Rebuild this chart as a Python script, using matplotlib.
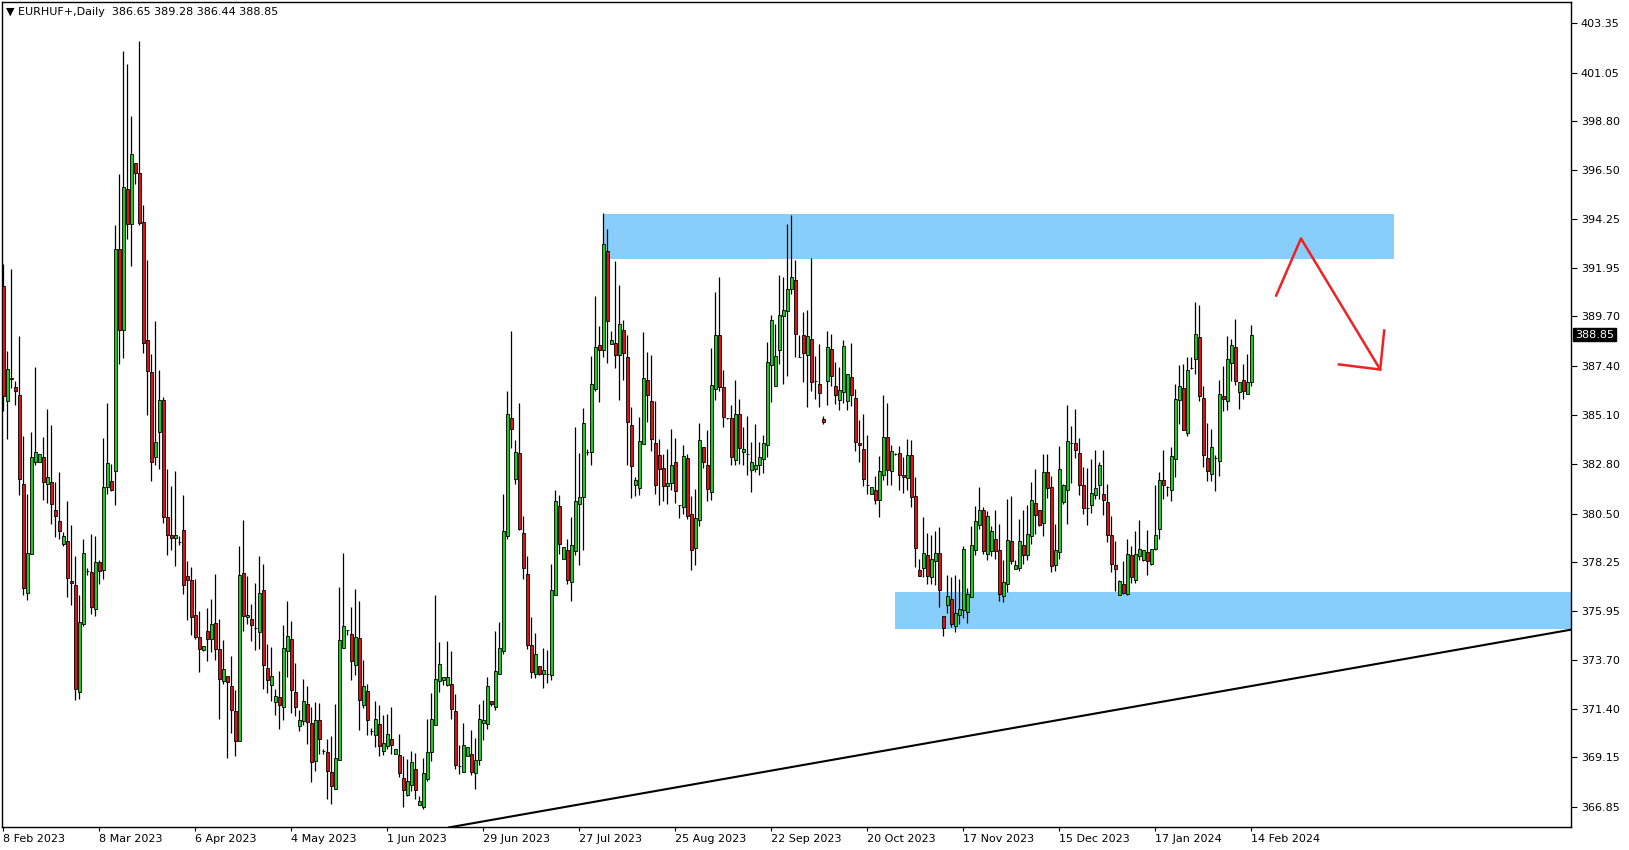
import numpy as np
import matplotlib
matplotlib.use("Agg")
import matplotlib.pyplot as plt
import matplotlib.transforms as mtransforms
from matplotlib.patches import Rectangle

# EURHUF+ daily candles (one value per bar)
opens = [
    391.10, 385.74, 386.84, 386.42, 386.02, 381.90, 376.82, 378.63, 382.90, 382.90,
    383.13, 381.90, 381.97, 380.69, 380.17, 379.10, 379.22, 377.35, 377.19, 372.18,
    375.37, 377.82, 377.77, 376.07, 378.26, 377.87, 381.73, 382.04, 382.50, 392.85,
    389.07, 395.64, 394.01, 396.86, 396.39, 394.08, 388.58, 387.12, 383.13, 384.30,
    385.81, 380.34, 379.52, 379.38, 379.17, 379.73, 377.59, 377.40, 375.79, 374.74,
    374.16, 375.02, 374.67, 375.42, 374.21, 372.69, 372.93, 372.46, 371.30, 369.90,
    377.75, 375.68, 375.61, 375.19, 374.98, 376.93, 373.32, 372.51, 371.71, 371.95,
    371.48, 374.09, 374.67, 372.18, 370.60, 370.83, 371.64, 370.76, 368.97, 370.88,
    369.43, 369.38, 368.45, 367.68, 369.04, 374.25, 375.07, 374.91, 373.44, 374.72,
    371.58, 372.23, 370.36, 370.18, 370.71, 369.43, 369.66, 370.01, 369.31, 369.25,
    368.20, 367.40, 367.87, 368.62, 366.94, 366.82, 368.15, 369.38, 370.67, 372.69,
    372.76, 372.53, 372.58, 371.30, 368.73, 368.45, 369.20, 369.31, 368.43, 369.04,
    370.76, 370.71, 371.76, 371.48, 373.04, 374.09, 379.45, 384.97, 382.13, 383.34,
    379.61, 377.70, 374.37, 373.04, 373.39, 373.04, 373.04, 372.97, 376.70, 380.85,
    378.40, 378.82, 377.31, 378.75, 380.96, 381.27, 383.36, 383.36, 386.32, 388.35,
    388.12, 392.73, 388.42, 388.47, 387.89, 389.05, 387.79, 384.65, 381.83, 381.71,
    383.76, 386.74, 385.74, 383.81, 383.23, 382.64, 381.78, 381.94, 382.90, 380.90,
    380.80, 383.11, 380.50, 378.91, 380.22, 383.60, 382.76, 381.50, 386.32, 388.82,
    386.39, 384.97, 384.97, 382.99, 385.16, 383.36, 383.29, 382.53, 382.60, 382.78,
    383.06, 383.69, 387.42, 386.44, 388.12, 389.70, 389.94, 390.98, 391.38, 387.79,
    388.82, 387.89, 388.65, 386.67, 386.56, 384.93, 386.67, 388.19, 386.44, 385.79,
    386.16, 385.74, 386.86, 385.90, 383.81, 383.53, 381.83, 381.43, 381.62, 381.13,
    382.29, 384.06, 382.48, 383.29, 383.34, 382.32, 382.18, 383.23, 381.31, 377.87,
    377.98, 378.57, 377.54, 378.29, 378.68, 375.72, 376.24, 376.54, 375.26, 375.77,
    376.00, 375.91, 376.61, 378.82, 379.96, 380.66, 378.63, 378.75, 379.33, 378.80,
    376.65, 377.24, 379.22, 377.94, 377.98, 379.03, 378.57, 379.45, 381.01, 380.66,
    380.08, 382.43, 381.73, 378.12, 378.70, 381.03, 381.62, 383.81, 383.81, 383.34,
    381.83, 380.78, 380.92, 381.36, 381.83, 381.43, 381.03, 379.50, 378.10, 376.72,
    377.24, 376.77, 378.57, 377.42, 378.52, 378.36, 378.70, 378.17, 378.87, 379.80,
    382.06, 381.73, 381.62, 383.06, 385.79, 386.37, 384.27, 387.30, 387.72, 388.72,
    385.90, 383.11, 382.36, 383.11, 382.95, 385.97, 385.74, 387.54, 388.26, 386.16,
    386.72, 386.09, 386.65,
]
highs = [
    392.15, 388.07, 391.92, 386.67, 388.77, 384.11, 381.43, 384.32, 387.33, 383.29,
    384.06, 385.39, 384.65, 381.97, 382.43, 379.64, 381.08, 379.96, 378.52, 376.70,
    379.33, 377.98, 379.57, 379.45, 378.33, 384.04, 385.67, 382.83, 393.94, 396.34,
    402.05, 401.47, 399.02, 396.86, 402.52, 394.90, 392.34, 387.95, 389.47, 387.21,
    385.93, 382.60, 381.78, 382.48, 379.45, 381.38, 378.29, 378.01, 377.47, 375.96,
    374.32, 376.12, 376.54, 377.70, 375.61, 374.63, 372.93, 373.86, 372.30, 378.98,
    380.20, 377.59, 376.30, 377.28, 378.52, 378.17, 374.44, 374.28, 372.34, 373.16,
    375.30, 376.42, 375.49, 373.56, 371.37, 372.81, 372.46, 371.48, 371.71, 371.69,
    369.55, 370.01, 370.13, 371.64, 377.07, 378.68, 375.07, 376.14, 377.00, 376.42,
    373.67, 372.58, 370.53, 371.76, 371.58, 371.13, 371.18, 371.48, 369.55, 370.25,
    369.20, 369.08, 369.43, 369.36, 367.33, 369.13, 370.95, 372.16, 376.72, 374.51,
    372.88, 374.56, 374.09, 372.11, 369.73, 370.76, 369.62, 370.41, 370.06, 371.64,
    371.83, 372.88, 371.76, 375.02, 375.44, 381.43, 386.21, 389.00, 383.95, 385.67,
    380.38, 378.52, 375.68, 374.95, 373.39, 374.25, 374.14, 378.17, 381.62, 381.36,
    378.94, 379.33, 380.34, 384.53, 383.34, 385.44, 383.53, 387.84, 390.63, 389.24,
    394.53, 393.78, 389.00, 392.27, 391.15, 389.52, 388.82, 385.46, 382.20, 385.00,
    388.96, 388.02, 387.89, 385.74, 383.99, 383.29, 383.53, 384.46, 384.04, 380.90,
    383.71, 383.29, 381.31, 381.66, 384.74, 383.60, 384.39, 388.23, 390.82, 391.52,
    387.19, 384.97, 385.56, 386.74, 385.86, 384.53, 385.04, 383.83, 384.69, 383.83,
    384.16, 388.49, 389.75, 389.35, 391.61, 391.52, 394.01, 394.43, 392.34, 388.84,
    389.89, 390.01, 392.43, 387.84, 388.42, 385.04, 389.00, 388.89, 387.56, 387.33,
    388.58, 387.02, 388.47, 386.32, 384.86, 385.16, 384.18, 381.73, 382.25, 383.18,
    386.04, 385.67, 383.71, 383.34, 383.64, 383.13, 383.99, 383.92, 382.20, 378.40,
    380.34, 379.61, 379.52, 379.68, 379.87, 375.72, 377.66, 377.54, 377.63, 377.47,
    378.98, 377.05, 379.92, 380.85, 381.73, 380.80, 380.62, 379.92, 380.66, 380.03,
    378.36, 381.20, 381.31, 378.36, 380.27, 380.69, 380.91, 381.97, 382.60, 380.66,
    383.29, 383.29, 382.25, 380.03, 383.64, 381.90, 385.56, 384.58, 385.39, 384.04,
    382.67, 382.64, 383.06, 383.46, 382.90, 383.48, 381.90, 380.38, 379.22, 377.42,
    378.29, 379.33, 378.98, 379.68, 380.22, 378.82, 379.73, 378.87, 381.85, 382.43,
    383.46, 381.78, 383.60, 386.56, 387.42, 387.49, 387.79, 387.79, 390.35, 390.24,
    386.44, 384.74, 384.46, 383.25, 386.72, 387.37, 388.77, 388.65, 389.59, 386.63,
    387.49, 387.95, 389.28,
]
lows = [
    385.28, 383.99, 386.37, 385.58, 381.38, 376.70, 376.47, 378.63, 382.78, 382.90,
    381.15, 381.01, 380.03, 379.40, 379.33, 378.98, 376.61, 376.26, 371.81, 371.88,
    375.26, 377.66, 375.84, 375.72, 377.24, 377.47, 381.43, 381.55, 380.90, 387.49,
    387.77, 393.31, 392.03, 395.88, 393.97, 388.00, 385.09, 382.01, 382.76, 382.60,
    380.08, 378.59, 378.82, 378.05, 379.05, 376.77, 375.56, 374.86, 374.67, 373.11,
    374.09, 373.63, 374.04, 373.67, 370.95, 372.58, 369.13, 370.29, 369.20, 369.90,
    375.02, 375.37, 374.56, 374.14, 374.21, 372.34, 372.16, 371.76, 371.13, 370.48,
    370.90, 372.88, 371.23, 371.06, 370.36, 370.64, 369.78, 367.99, 368.50, 369.31,
    369.31, 367.22, 366.98, 367.68, 369.04, 374.25, 374.84, 372.76, 372.97, 370.41,
    371.46, 370.18, 370.20, 369.62, 369.20, 369.27, 369.55, 369.31, 369.31, 368.22,
    366.82, 367.33, 367.57, 367.22, 366.92, 366.75, 368.03, 368.97, 370.67, 372.18,
    372.53, 372.46, 370.95, 368.62, 368.38, 368.45, 369.20, 368.34, 367.68, 368.80,
    369.97, 370.48, 371.53, 371.37, 373.04, 373.97, 379.33, 383.57, 381.90, 379.75,
    377.47, 374.21, 372.86, 372.86, 373.00, 372.39, 372.62, 372.74, 376.70, 378.63,
    378.40, 377.24, 376.42, 378.57, 378.10, 378.82, 383.25, 382.78, 386.21, 385.69,
    387.79, 387.54, 388.42, 387.30, 385.79, 386.72, 382.76, 381.24, 381.31, 381.38,
    383.76, 384.76, 383.41, 381.43, 380.92, 381.08, 380.96, 381.62, 381.01, 380.31,
    380.50, 380.27, 377.89, 378.12, 379.92, 382.64, 381.08, 381.13, 385.81, 386.21,
    384.53, 384.93, 382.76, 382.78, 382.83, 382.76, 382.29, 381.50, 382.43, 382.29,
    382.41, 383.13, 385.69, 386.44, 387.49, 386.56, 386.91, 390.75, 387.79, 387.79,
    386.63, 385.46, 386.21, 385.86, 385.46, 384.69, 385.58, 386.44, 385.62, 385.35,
    385.67, 385.35, 385.51, 383.41, 382.90, 381.78, 381.43, 381.43, 380.96, 380.34,
    382.06, 381.83, 381.85, 383.25, 381.62, 381.48, 381.59, 380.80, 378.01, 377.59,
    377.54, 377.24, 377.24, 377.19, 376.14, 374.79, 375.89, 375.21, 374.98, 375.37,
    375.65, 375.42, 376.61, 378.57, 379.80, 378.63, 378.33, 378.52, 378.40, 376.42,
    376.37, 376.84, 378.17, 377.94, 377.82, 378.17, 378.36, 379.10, 379.57, 379.92,
    379.45, 381.24, 377.77, 377.82, 378.40, 380.96, 380.03, 381.94, 383.11, 381.36,
    380.50, 379.96, 380.55, 381.20, 381.20, 380.45, 379.17, 377.77, 376.89, 376.72,
    376.77, 376.72, 377.28, 377.28, 378.33, 378.29, 377.63, 378.10, 378.82, 379.33,
    381.20, 381.31, 381.08, 382.20, 384.69, 384.39, 384.11, 387.26, 387.02, 385.74,
    382.67, 382.01, 382.01, 381.55, 382.25, 385.28, 385.35, 386.67, 386.51, 385.39,
    385.86, 386.09, 386.44,
]
closes = [
    385.97, 387.26, 386.80, 386.23, 382.13, 377.05, 378.68, 383.13, 383.36, 383.29,
    381.97, 382.20, 380.96, 380.41, 379.68, 379.45, 377.52, 377.28, 372.34, 375.44,
    378.68, 377.82, 376.14, 378.26, 377.82, 381.76, 382.85, 381.62, 392.85, 389.07,
    395.71, 394.01, 397.27, 396.39, 394.06, 388.47, 387.14, 382.92, 383.83, 385.81,
    380.34, 379.52, 379.38, 379.52, 379.17, 377.17, 377.40, 375.68, 374.74, 374.21,
    374.32, 374.67, 375.37, 374.21, 372.81, 373.28, 372.65, 371.34, 369.90, 377.63,
    375.72, 375.79, 375.30, 375.19, 376.82, 373.44, 372.76, 372.93, 371.99, 371.60,
    374.25, 374.79, 372.30, 371.48, 370.90, 371.76, 370.78, 368.92, 370.90, 370.01,
    369.43, 368.50, 367.80, 369.13, 374.60, 375.26, 375.07, 373.63, 374.74, 371.81,
    372.46, 370.90, 370.36, 370.95, 369.66, 369.83, 370.25, 369.71, 369.55, 368.43,
    367.61, 368.03, 368.92, 367.61, 367.10, 368.43, 369.38, 370.95, 372.81, 373.51,
    372.88, 372.88, 371.41, 368.78, 368.73, 369.71, 369.62, 368.45, 369.04, 370.95,
    370.90, 372.46, 371.64, 373.16, 374.25, 379.68, 385.16, 384.46, 383.36, 379.80,
    377.98, 374.37, 373.11, 373.97, 373.04, 373.21, 373.04, 376.93, 381.08, 379.10,
    378.94, 377.40, 379.03, 381.08, 381.27, 384.74, 383.36, 386.56, 388.26, 388.14,
    393.08, 389.47, 388.61, 387.91, 389.35, 388.00, 384.76, 382.71, 382.08, 383.88,
    386.84, 386.02, 383.99, 381.83, 382.60, 381.78, 381.94, 382.78, 381.55, 380.90,
    383.18, 380.38, 378.82, 380.31, 383.95, 382.90, 381.66, 386.51, 388.82, 386.39,
    385.00, 384.97, 383.13, 385.16, 383.57, 383.53, 383.29, 382.90, 382.78, 383.13,
    383.81, 387.56, 389.52, 387.84, 389.77, 390.01, 390.98, 391.52, 388.89, 387.79,
    388.00, 388.77, 386.63, 386.67, 386.14, 384.76, 388.26, 386.91, 386.04, 386.28,
    388.30, 387.02, 386.02, 383.83, 383.69, 382.13, 381.83, 381.73, 381.13, 382.48,
    384.06, 382.55, 383.41, 383.29, 382.32, 382.20, 383.23, 381.27, 378.91, 377.59,
    378.68, 377.59, 378.40, 378.68, 376.93, 375.19, 376.65, 375.37, 375.89, 376.07,
    378.87, 376.77, 379.03, 380.15, 380.66, 378.75, 380.38, 379.68, 378.75, 376.77,
    377.31, 379.26, 378.29, 378.10, 379.22, 378.59, 379.57, 381.15, 380.45, 379.96,
    382.43, 381.71, 378.05, 378.82, 382.60, 381.85, 383.88, 383.81, 383.46, 381.85,
    380.78, 380.78, 381.48, 381.71, 382.78, 381.13, 379.52, 378.17, 377.94, 377.35,
    376.82, 378.63, 377.54, 378.63, 378.87, 378.82, 378.29, 378.87, 379.52, 382.06,
    381.83, 381.73, 383.18, 385.86, 386.44, 384.39, 387.19, 387.30, 388.89, 385.97,
    383.23, 382.48, 383.60, 383.11, 386.09, 385.86, 387.72, 388.35, 386.67, 386.63,
    386.21, 386.63, 388.85,
]

# date labels every 24 bars (6 bars a week incl. sunday)
date_labels = ["8 Feb 2023", "8 Mar 2023", "6 Apr 2023", "4 May 2023", "1 Jun 2023",
               "29 Jun 2023", "27 Jul 2023", "25 Aug 2023", "22 Sep 2023", "20 Oct 2023",
               "17 Nov 2023", "15 Dec 2023", "17 Jan 2024", "14 Feb 2024"]
date_bars = [0, 24, 48, 72, 96, 120, 144, 168, 192, 216, 240, 264, 288, 312]

price_ticks = [403.35, 401.05, 398.80, 396.50, 394.25, 391.95, 389.70, 387.40, 385.10,
               382.80, 380.50, 378.25, 375.95, 373.70, 371.40, 369.15, 366.85]

# drawn objects: zones, trend line, arrow (bar index, price)
zone_top = [150, 347.7, 392.38, 394.47]     # x0, x1, y0, y1
zone_bottom = [223, 400, 375.15, 376.85]
trend_x = [111.4, 392.0]
trend_y = [365.88, 375.10]
arrow_x = [318.2, 324.4, 344.2]
arrow_y = [390.67, 393.33, 387.22]
head_x = [333.9, 344.2, 345.2]
head_y = [387.46, 387.22, 389.04]

o = np.array(opens); h = np.array(highs); l = np.array(lows); c = np.array(closes)
x = np.arange(len(c))

W, H = 1629, 850
fig = plt.figure(figsize=(W / 100, H / 100), dpi=100)
ax = fig.add_axes([2 / W, 1 - 827 / H, 1569 / W, 825 / H])

# support / resistance zones
for z in (zone_top, zone_bottom):
    ax.add_patch(Rectangle((z[0], z[2]), z[1] - z[0], z[3] - z[2],
                           facecolor="#87cefa", edgecolor="none", zorder=1))

# candles: wicks then bodies
ax.vlines(x, l, h, color="black", linewidth=0.9, zorder=2)
cols = np.where(c >= o, "#1ccc1c", "#dd1111")
ax.bar(x, np.abs(c - o), bottom=np.minimum(o, c), width=0.6, color=cols,
       edgecolor="black", linewidth=0.6, zorder=3)

# trend line + red arrow
ax.plot(trend_x, trend_y, color="black", linewidth=1.5, zorder=4)
ax.plot(arrow_x, arrow_y, color="#ee2222", linewidth=1.8, zorder=5)
ax.plot(head_x, head_y, color="#ee2222", linewidth=1.8, zorder=5)

ax.set_xlim(-0.33, 391.9)
ax.set_ylim(365.9, 404.35)

# right price axis
ax.yaxis.tick_right()
ax.set_yticks(price_ticks)
ax.set_yticklabels(["%.2f" % p for p in price_ticks])
ax.tick_params(axis="y", direction="out", length=4, width=0.8, labelsize=8, pad=3)

ax.set_xticks(date_bars)
ax.set_xticklabels(date_labels, ha="left")
ax.tick_params(axis="x", direction="out", length=3, width=0.8, labelsize=8, pad=2)

for s in ax.spines.values():
    s.set_color("black")
    s.set_linewidth(1)

# current price tag
trans = mtransforms.blended_transform_factory(ax.transAxes, ax.transData)
ax.text(1.0025, closes[-1], "%.2f" % closes[-1], transform=trans, color="white",
        fontsize=8, va="center", ha="left",
        bbox=dict(facecolor="black", edgecolor="black", pad=1.2))

# header
last = "%.2f %.2f %.2f %.2f" % (opens[-1], highs[-1], lows[-1], closes[-1])
fig.text(6 / W, 1 - 12 / H, "\u25bc EURHUF+,Daily  " + last, fontsize=8,
         va="center", ha="left", color="black")

fig.savefig("out.png", dpi=100, facecolor="white")
